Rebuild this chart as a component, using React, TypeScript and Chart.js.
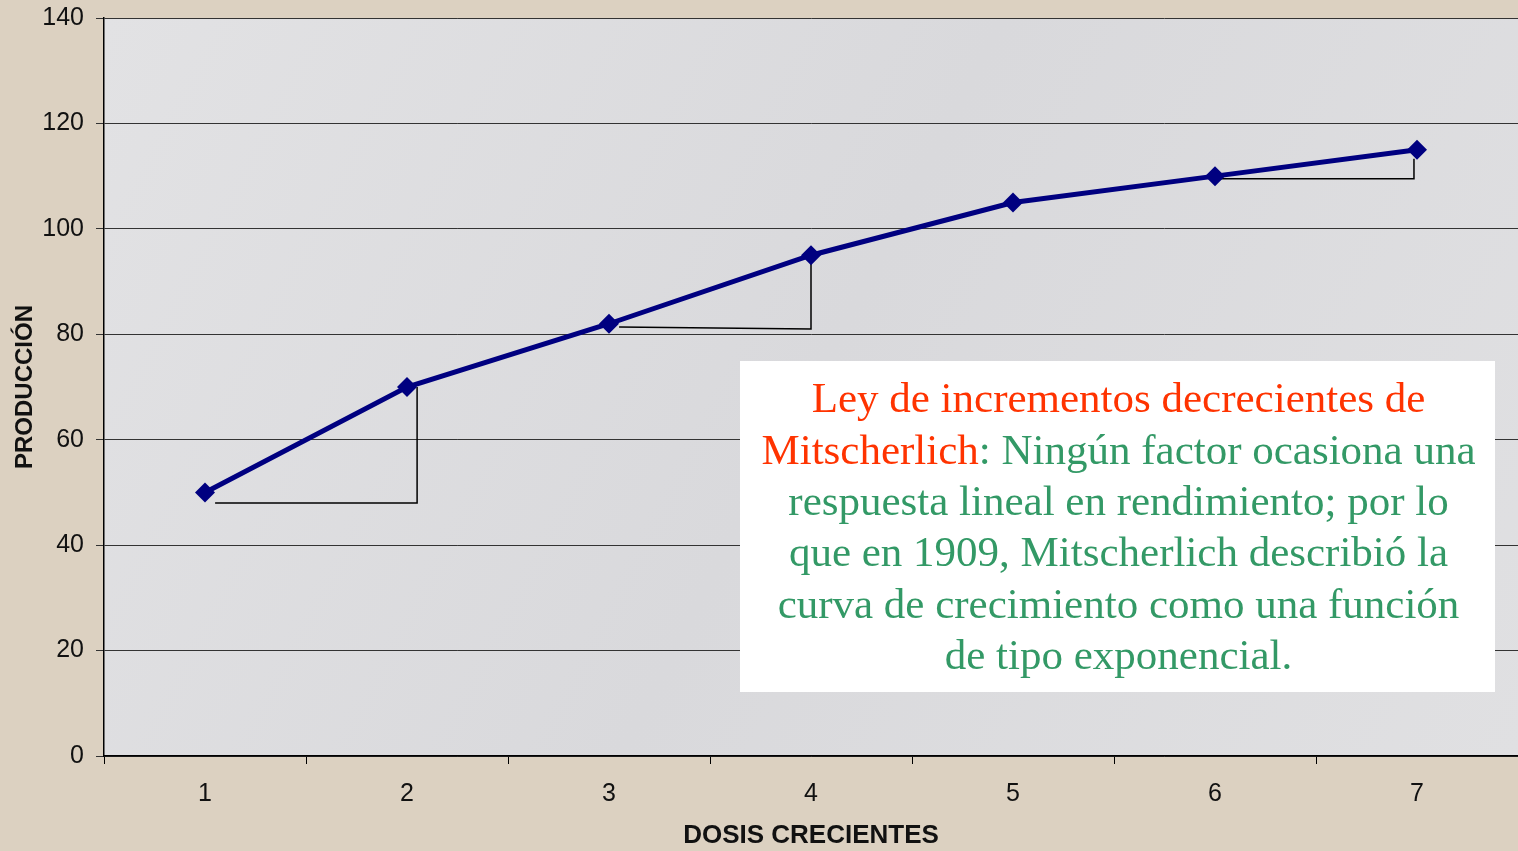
import React, { useEffect, useRef } from "react";
import { Chart, registerables } from "chart.js";

Chart.register(...registerables);

const categories = ["1", "2", "3", "4", "5", "6", "7"];
const produccion = [50, 70, 82, 95, 105, 110, 115];

// guide triangles (x in category units, y in data units)
const tri1X = [1.05, 2.05, 2.05];
const tri1Y = [48, 48, 70];
const tri2X = [3.05, 4.0, 4.0];
const tri2Y = [81.4, 81, 94.5];
const tri3X = [6.0, 6.985, 6.985];
const tri3Y = [109.5, 109.5, 113.3];

const noteLines: { text: string; color: string }[][] = [
  [{ text: "Ley de incrementos decrecientes de", color: "#ff3300" }],
  [
    { text: "Mitscherlich", color: "#ff3300" },
    { text: ": Ningún factor ocasiona una", color: "#339966" },
  ],
  [{ text: "respuesta lineal en rendimiento; por lo", color: "#339966" }],
  [{ text: "que en 1909, Mitscherlich describió la", color: "#339966" }],
  [{ text: "curva de crecimiento como una función", color: "#339966" }],
  [{ text: "de tipo exponencial.", color: "#339966" }],
];

const toPts = (xs: number[], ys: number[]) => xs.map((x, i) => ({ x, y: ys[i] }));

const bgPlugin = {
  id: "bg",
  beforeDraw(chart: any) {
    const { ctx, width, height, chartArea } = chart;
    ctx.save();
    ctx.fillStyle = "#dcd1c1";
    ctx.fillRect(0, 0, width, height);
    const g = ctx.createLinearGradient(chartArea.left, chartArea.top, chartArea.right, chartArea.bottom);
    g.addColorStop(0, "#e2e2e4");
    g.addColorStop(0.5, "#d9d9dc");
    g.addColorStop(1, "#e0e0e2");
    ctx.fillStyle = g;
    ctx.fillRect(chartArea.left, chartArea.top, chartArea.right - chartArea.left, chartArea.bottom - chartArea.top);
    ctx.restore();
  },
};

const notePlugin = {
  id: "note",
  afterDraw(chart: any) {
    const { ctx, chartArea } = chart;
    const x0 = chartArea.left + 636;
    const y0 = chartArea.top + 343;
    const w = 755;
    const h = 331;
    ctx.save();
    ctx.fillStyle = "#ffffff";
    ctx.fillRect(x0, y0, w, h);
    ctx.font = '43px "Liberation Serif", "Times New Roman", serif';
    ctx.textBaseline = "middle";
    ctx.textAlign = "left";
    const cx = x0 + w / 2 + 1;
    const lineH = 51.4;
    noteLines.forEach((parts, i) => {
      const total = parts.reduce((s, p) => s + ctx.measureText(p.text).width, 0);
      let x = cx - total / 2;
      const y = y0 + 40 + i * lineH;
      parts.forEach((p) => {
        ctx.fillStyle = p.color;
        ctx.fillText(p.text, x, y);
        x += ctx.measureText(p.text).width;
      });
    });
    ctx.restore();
  },
};

export default function App() {
  const ref = useRef<HTMLCanvasElement>(null);
  useEffect(() => {
    document.body.style.margin = "0";
    const triStyle = {
      type: "line" as const,
      xAxisID: "x2",
      borderColor: "#000000",
      borderWidth: 1.5,
      pointRadius: 0,
      fill: false,
      tension: 0,
      order: 2,
    };
    const chart = new Chart(ref.current!, {
      type: "line",
      data: {
        labels: categories,
        datasets: [
          { ...triStyle, data: toPts(tri1X, tri1Y) } as any,
          { ...triStyle, data: toPts(tri2X, tri2Y) } as any,
          { ...triStyle, data: toPts(tri3X, tri3Y) } as any,
          {
            data: produccion,
            xAxisID: "x",
            borderColor: "#000080",
            backgroundColor: "#000080",
            borderWidth: 5,
            pointStyle: "rectRot",
            pointRadius: 10,
            pointBorderWidth: 0,
            tension: 0,
            order: 1,
          },
        ],
      },
      options: {
        animation: false,
        responsive: false,
        layout: { autoPadding: false, padding: { top: 18, right: 0, left: 0, bottom: 0 } },
        plugins: { legend: { display: false }, tooltip: { enabled: false } },
        scales: {
          x: {
            type: "category",
            offset: true,
            grid: { offset: true, drawOnChartArea: false, drawTicks: true, tickLength: 8, color: "#000", lineWidth: 1 },
            border: { display: true, color: "#000", width: 1.5 },
            ticks: { color: "#111", font: { family: "Liberation Sans, Arial", size: 25 }, padding: 15 },
            title: {
              display: true,
              text: "DOSIS CRECIENTES",
              color: "#111",
              font: { family: "Liberation Sans, Arial", size: 26, weight: "bold" },
              padding: { top: 0, bottom: 0 },
            },
            afterFit: (s: any) => {
              s.height = 95;
              s.paddingLeft = 0;
              s.paddingRight = 0;
            },
          },
          x2: {
            type: "linear",
            display: false,
            min: 0.5,
            max: 7.5,
            afterFit: (s: any) => {
              s.paddingLeft = 0;
              s.paddingRight = 0;
            },
          },
          y: {
            min: 0,
            max: 140,
            ticks: { stepSize: 20, color: "#111", font: { family: "Liberation Sans, Arial", size: 25 }, padding: 12 },
            grid: { color: "#333", lineWidth: 1, tickLength: 8 },
            border: { display: true, color: "#000", width: 1.5 },
            title: {
              display: true,
              text: "PRODUCCIÓN",
              color: "#111",
              font: { family: "Liberation Sans, Arial", size: 24, weight: "bold" },
              padding: { top: 11, bottom: 0 },
            },
            afterFit: (s: any) => {
              s.width = 104;
              s.paddingTop = 0;
              s.paddingBottom = 0;
            },
          },
        },
      },
      plugins: [bgPlugin, notePlugin],
    });
    return () => chart.destroy();
  }, []);
  return <canvas ref={ref} width={1518} height={851} style={{ display: "block" }} />;
}
